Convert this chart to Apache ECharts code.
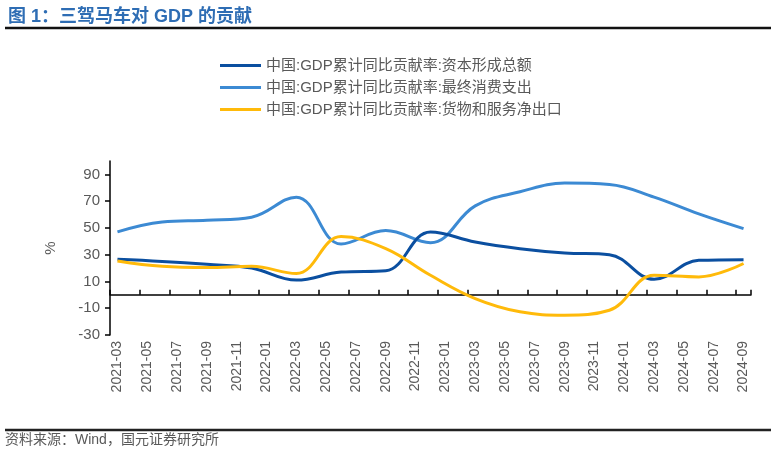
<!DOCTYPE html>
<html>
<head>
<meta charset="utf-8">
<script src="https://cdn.jsdelivr.net/npm/echarts@6/dist/echarts.min.js"></script>
<style>
html,body{margin:0;padding:0;background:#fff;}
#c{width:776px;height:452px;}
</style>
</head>
<body>
<div id="c"></div>
<script>
// Monthly category axis (labels shown every 2 months)
var months = [];
(function(){
  for (var y = 2021; y <= 2024; y++) {
    for (var m = 1; m <= 12; m++) {
      if (y === 2021 && m < 3) continue;
      if (y === 2024 && m > 9) continue;
      months.push(y + '-' + (m < 10 ? '0' + m : m));
    }
  }
})();

// Quarterly observation dates
var quarters = ['2021-03','2021-06','2021-09','2021-12','2022-03','2022-06','2022-09','2022-12',
                '2023-03','2023-06','2023-09','2023-12','2024-03','2024-06','2024-09'];

var seriesNames = ['中国:GDP累计同比贡献率:资本形成总额',
                   '中国:GDP累计同比贡献率:最终消费支出',
                   '中国:GDP累计同比贡献率:货物和服务净出口'];

var capital     = [26.6, 25.0, 22.8, 20.0, 11.0, 17.0, 18.0, 47.0, 39.5, 34.5, 31.3, 30.0, 11.6, 25.8, 26.3];
var consumption = [47.0, 54.4, 55.7, 58.0, 73.0, 38.0, 48.0, 39.0, 66.5, 77.0, 83.5, 82.5, 73.0, 60.5, 49.5];
var netExports  = [25.3, 21.3, 20.4, 21.3, 15.9, 43.5, 34.5, 14.6, -2.8, -12.7, -15.2, -11.5, 14.6, 13.4, 23.4];

var yTicks = [-30, -10, 10, 30, 50, 70, 90];

var colors = ['#0B4FA0', '#3C8AD3', '#FFBA0A'];

function pairs(vals){ return quarters.map(function(q,i){ return [q, vals[i]]; }); }

var chart = echarts.init(document.getElementById('c'), null, {renderer:'canvas'});
var font = 'Arial, "Liberation Sans", "Noto Sans CJK SC", sans-serif';
var option = {
  animation: false,
  backgroundColor: '#fff',
  title: {
    text: '图 1：三驾马车对 GDP 的贡献',
    left: 3, top: 3,
    textStyle: {color: '#2E6DB4', fontSize: 18, fontWeight: 'bold', fontFamily: font}
  },
  graphic: [
    {type:'line', shape:{x1:5, y1:28, x2:771, y2:28}, style:{stroke:'#111', lineWidth:2.5}},
    {type:'line', shape:{x1:5, y1:430, x2:771, y2:430}, style:{stroke:'#222', lineWidth:2.5}},
    {type:'text', left: 5, top: 433, style:{text:'资料来源：Wind，国元证券研究所', fill:'#595959', font:'14px ' + font}}
  ],
  legend: {
    orient: 'vertical',
    left: 215, top: 53,
    itemWidth: 41, itemHeight: 3, itemGap: 7,
    icon: 'rect',
    textStyle: {color: '#595959', fontSize: 15, fontFamily: font},
    data: seriesNames
  },
  grid: {left: 110, right: 25, top: 161, bottom: 117, containLabel: false},
  xAxis: [{
    type: 'category',
    data: months,
    boundaryGap: true,
    position: 'bottom',
    axisLine: {show: false, onZero: false},
    axisTick: {show: false},
    axisLabel: {interval: 1, rotate: 90, color: '#595959', fontSize: 14, fontFamily: font, margin: 6}
  }, {
    type: 'category',
    data: months,
    boundaryGap: true,
    position: 'bottom',
    axisLine: {show: true, onZero: true, lineStyle: {color: '#000', width: 1.5}},
    axisTick: {show: true, inside: true, interval: 1, length: 5, lineStyle: {color: '#000', width: 1.5}},
    axisLabel: {show: false}
  }],
  yAxis: {
    type: 'value',
    min: -30, max: 100, interval: 20,
    name: '%', nameLocation: 'middle', nameGap: 52, nameRotate: 90,
    nameTextStyle: {color: '#595959', fontSize: 15, fontFamily: font},
    splitLine: {show: false},
    axisLine: {show: true, lineStyle: {color: '#000', width: 1.5}},
    axisTick: {show: true, length: 5, customValues: yTicks, lineStyle: {color: '#000', width: 1.5}},
    axisLabel: {color: '#595959', fontSize: 15, fontFamily: font, customValues: yTicks, margin: 10}
  },
  series: [
    {name: seriesNames[0], type: 'line', data: pairs(capital), smooth: 0.4, showSymbol: false, symbol: 'none',
     lineStyle: {color: colors[0], width: 3}, itemStyle: {color: colors[0]}, z: 3},
    {name: seriesNames[1], type: 'line', data: pairs(consumption), smooth: 0.4, showSymbol: false, symbol: 'none',
     lineStyle: {color: colors[1], width: 3}, itemStyle: {color: colors[1]}, z: 2},
    {name: seriesNames[2], type: 'line', data: pairs(netExports), smooth: 0.4, showSymbol: false, symbol: 'none',
     lineStyle: {color: colors[2], width: 3}, itemStyle: {color: colors[2]}, z: 4}
  ]
};
chart.setOption(option);
</script>
</body>
</html>
